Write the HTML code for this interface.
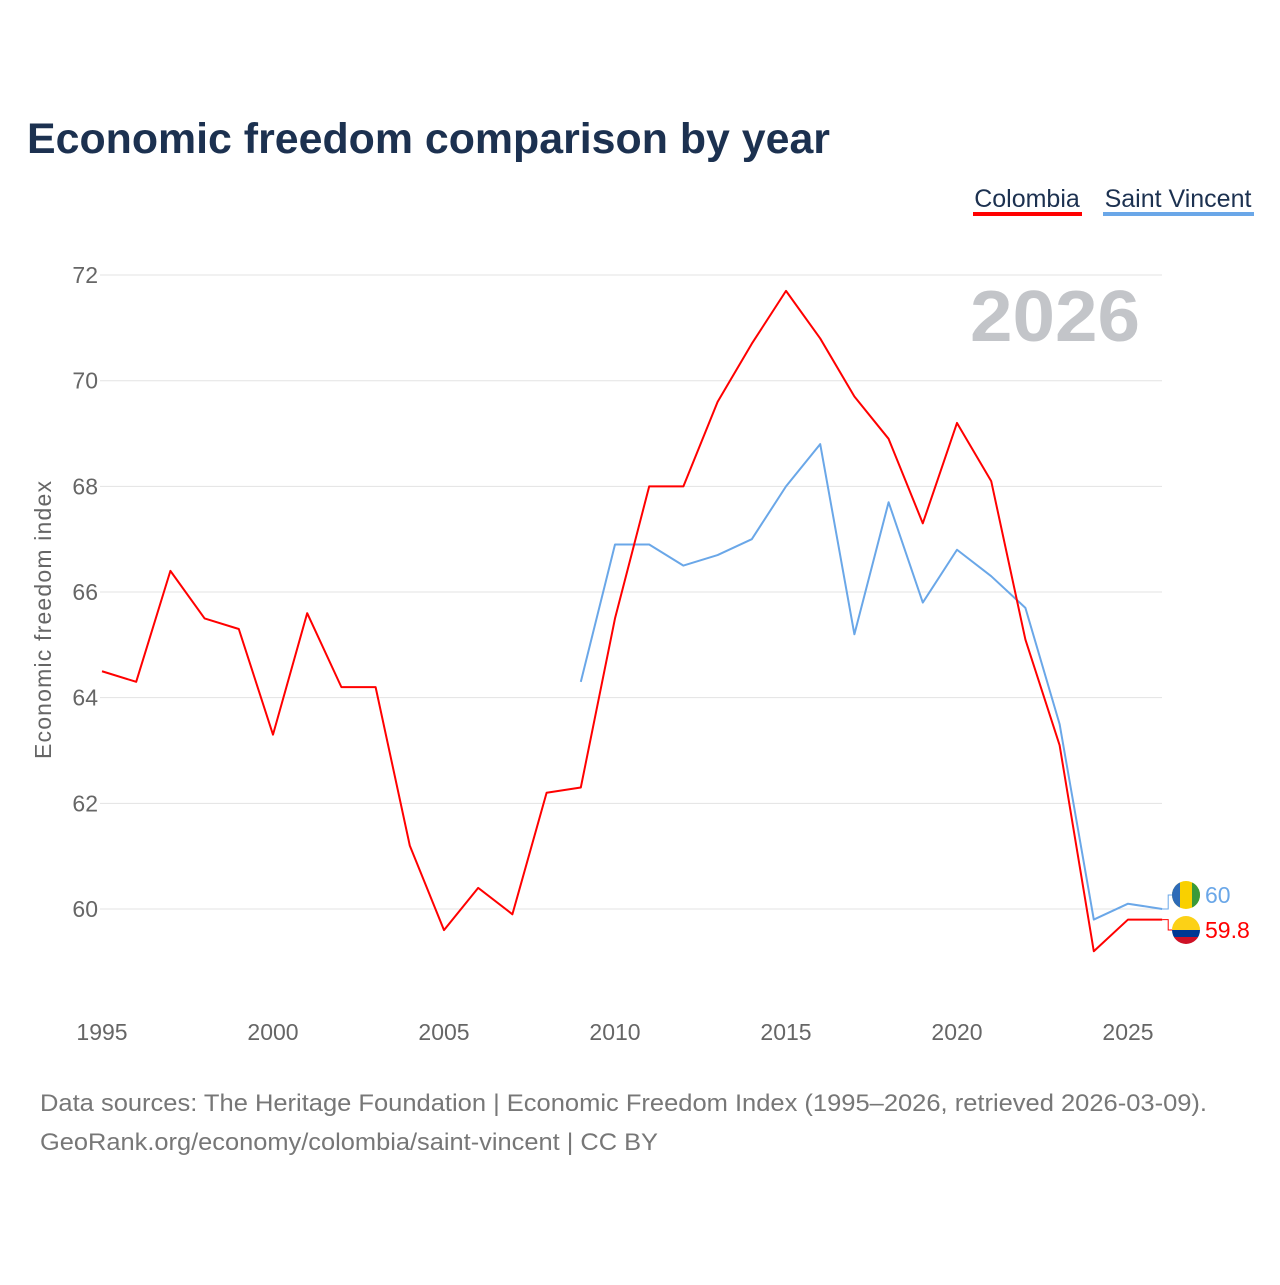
<!DOCTYPE html>
<html><head><meta charset="utf-8"><style>
body{margin:0;background:#fff;font-family:"Liberation Sans",sans-serif;}
#wrap{position:relative;width:1280px;height:1280px;}
</style></head><body><div id="wrap">
<svg id="svg" width="1280" height="1280" xmlns="http://www.w3.org/2000/svg">
<defs><clipPath id="c1"><circle cx="1186" cy="895" r="14"/></clipPath><clipPath id="c2"><circle cx="1186" cy="930" r="14"/></clipPath></defs>
<text x="27" y="153" font-size="43" font-weight="bold" fill="#1c3150" textLength="803" lengthAdjust="spacingAndGlyphs">Economic freedom comparison by year</text>
<g><text x="1027" y="207" font-size="25" fill="#1c3150" text-anchor="middle">Colombia</text><rect x="973" y="212" width="109" height="4" fill="#ff0000"/></g>
<g><text x="1178" y="207" font-size="25" fill="#1c3150" text-anchor="middle">Saint Vincent</text><rect x="1103" y="212" width="151" height="4" fill="#6aa7e8"/></g>
<text x="1140" y="341" font-size="72" font-weight="bold" fill="#c3c5c9" text-anchor="end" textLength="170" lengthAdjust="spacingAndGlyphs">2026</text>
<text transform="translate(51,620) rotate(-90)" font-size="23" fill="#666" text-anchor="middle" textLength="278">Economic freedom index</text>
<g id="grid"></g><g id="lines"></g>
<text x="40" y="1111" font-size="24" fill="#777" textLength="1167" lengthAdjust="spacingAndGlyphs">Data sources: The Heritage Foundation | Economic Freedom Index (1995–2026, retrieved 2026-03-09).</text>
<text x="40" y="1150" font-size="24" fill="#777" textLength="618" lengthAdjust="spacingAndGlyphs">GeoRank.org/economy/colombia/saint-vincent | CC BY</text>
</svg></div>
<script>
const years=[1995,1996,1997,1998,1999,2000,2001,2002,2003,2004,2005,2006,2007,2008,2009,2010,2011,2012,2013,2014,2015,2016,2017,2018,2019,2020,2021,2022,2023,2024,2025,2026];
const colombia=[64.5,64.3,66.4,65.5,65.3,63.3,65.6,64.2,64.2,61.2,59.6,60.4,59.9,62.2,62.3,65.5,68.0,68.0,69.6,70.7,71.7,70.8,69.7,68.9,67.3,69.2,68.1,65.1,63.1,59.2,59.8,59.8];
const svYears=[2009,2010,2011,2012,2013,2014,2015,2016,2017,2018,2019,2020,2021,2022,2023,2024,2025,2026];
const saintVincent=[64.3,66.9,66.9,66.5,66.7,67.0,68.0,68.8,65.2,67.7,65.8,66.8,66.3,65.7,63.5,59.8,60.1,60.0];
const yTicks=[60,62,64,66,68,70,72];
const xTicks=[1995,2000,2005,2010,2015,2020,2025];
const X=y=>102+(y-1995)*34.2, Y=v=>909-(v-60)*52.83;
const NS="http://www.w3.org/2000/svg";
const grid=document.getElementById('grid'), lines=document.getElementById('lines');
function mk(tag,attrs,parent){const e=document.createElementNS(NS,tag);for(const k in attrs)e.setAttribute(k,attrs[k]);parent.appendChild(e);return e;}
yTicks.forEach(t=>{
 const l=mk('line',{x1:100,x2:1162,y1:Y(t),y2:Y(t),stroke:'#e3e3e3','stroke-width':1},grid);
 
 
 const tx=mk('text',{x:98,y:Y(t)+8,'font-size':23,fill:'#666','text-anchor':'end'},grid);tx.textContent=t;
 
 
});
xTicks.forEach(t=>{
 const tx=mk('text',{x:X(t),y:1040,'font-size':23,fill:'#666','text-anchor':'middle'},grid);tx.textContent=t;
 
 
});
function series(xs,vs,color,name){
 const p=mk('polyline',{points:xs.map((y,i)=>X(y)+','+Y(vs[i])).join(' '),fill:'none',stroke:color,'stroke-width':2,'stroke-linejoin':'round'},lines);
 
 
}
series(svYears,saintVincent,'#6aa7e8','saint-vincent-line');
series(years,colombia,'#ff0000','colombia-line');
const sv=saintVincent[saintVincent.length-1], co=colombia[colombia.length-1];
const ex=X(2026);
mk('polyline',{points:`${ex},${Y(sv)} ${ex+6},${Y(sv)} ${ex+6},${895} ${ex+12},895`,fill:'none',stroke:'#6aa7e8','stroke-width':1},lines);
mk('polyline',{points:`${ex},${Y(co)} ${ex+6},${Y(co)} ${ex+6},${930} ${ex+12},930`,fill:'none',stroke:'#ff0000','stroke-width':1},lines);
const f1=mk('g',{'clip-path':'url(#c1)'},lines);


mk('rect',{x:1172,y:881,width:28,height:28,fill:'#f9d000'},f1);
mk('rect',{x:1172,y:881,width:8,height:28,fill:'#2d6bb8'},f1);
mk('rect',{x:1192,y:881,width:8,height:28,fill:'#3a9a3a'},f1);
const f2=mk('g',{'clip-path':'url(#c2)'},lines);


mk('rect',{x:1172,y:916,width:28,height:14,fill:'#fcd116'},f2);
mk('rect',{x:1172,y:930,width:28,height:7,fill:'#003893'},f2);
mk('rect',{x:1172,y:937,width:28,height:7,fill:'#ce1126'},f2);
const t1=mk('text',{x:1205,y:903,'font-size':23,fill:'#6aa7e8'},lines);t1.textContent=sv;


const t2=mk('text',{x:1205,y:938,'font-size':23,fill:'#ff0000'},lines);t2.textContent=co;


</script></body></html>
